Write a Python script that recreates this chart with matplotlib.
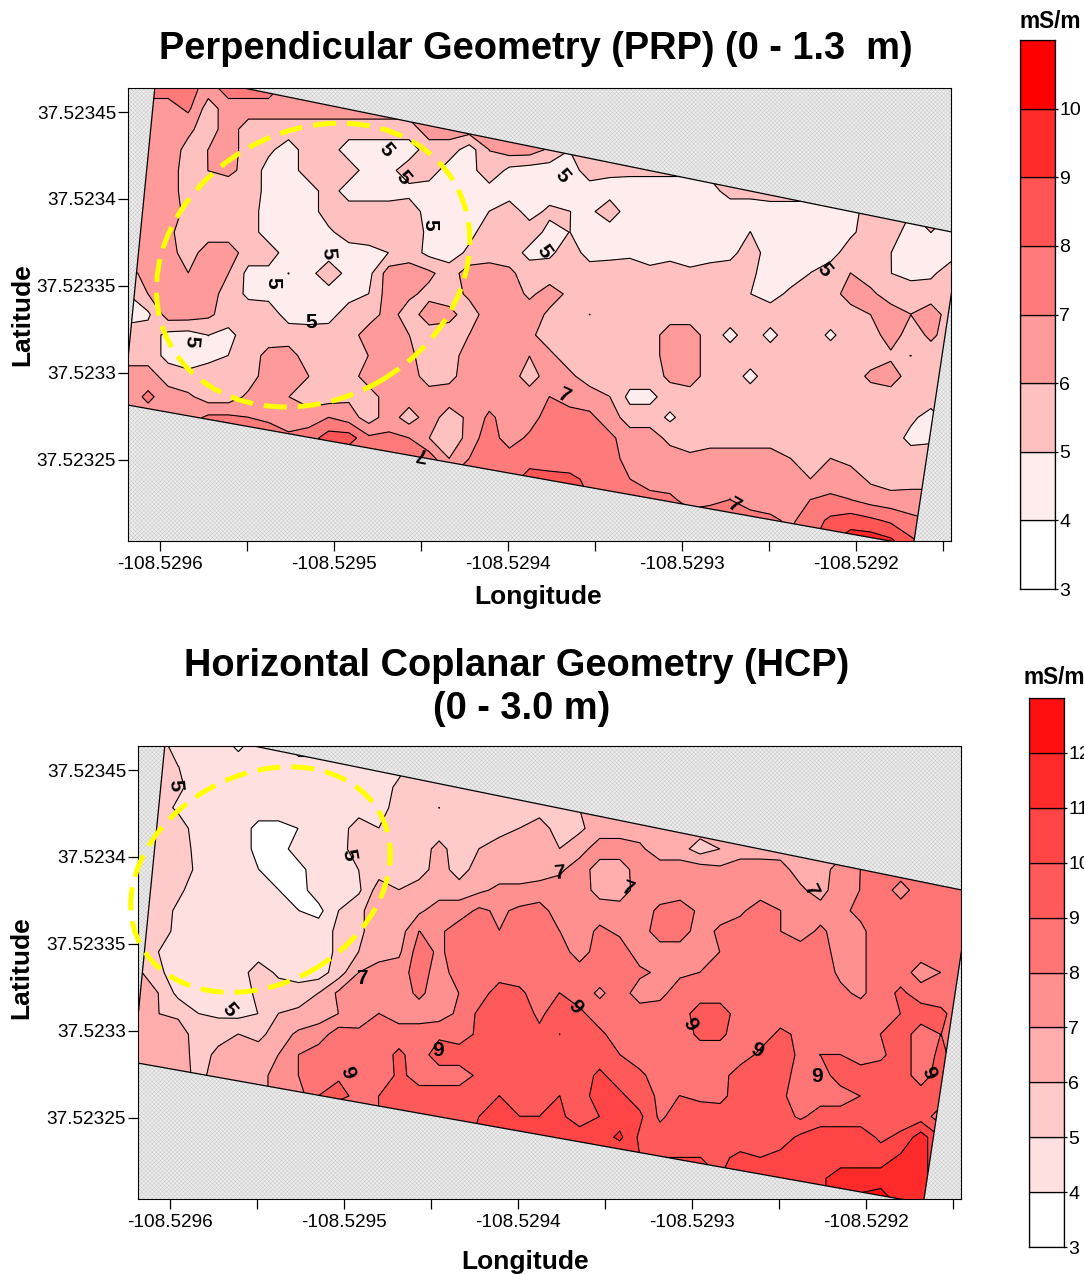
import numpy as np
import matplotlib
matplotlib.use("Agg")
import matplotlib.pyplot as plt
from matplotlib.patches import Polygon, Ellipse, Rectangle

plt.rcParams["font.family"] = ["Liberation Sans", "DejaVu Sans"]
plt.rcParams["hatch.linewidth"] = 0.3

# survey outline, same for both maps
outline_lon = [-108.529602, -108.52914, -108.529167, -108.529621]
outline_lat = [37.523474, 37.52338, 37.523201, 37.523282]

x_major = [-108.5296, -108.5295, -108.5294, -108.5293, -108.5292]
x_minor = [-108.52955, -108.52945, -108.52935, -108.52925, -108.52915]
x_labels = ["-108.5296", "-108.5295", "-108.5294", "-108.5293", "-108.5292"]
y_major = [37.52345, 37.5234, 37.52335, 37.5233, 37.52325]
y_labels = ["37.52345", "37.5234", "37.52335", "37.5233", "37.52325"]

xlim = (-108.5296184, -108.5291454)
ylim = (37.5232034, 37.5234638)

# conductivity x10, rows north to south, columns west to east
prp_values = [
    [65, 75, 75, 75, 65, 75, 75, 75, 65, 65, 65, 65, 65, 65, 65, 65, 65, 65, 65, 65] + [65] * 22,
    [65, 65, 65, 72, 55, 65, 65, 65, 65, 65, 65, 65, 65, 65, 65, 65, 65, 65, 65, 65] + [60] * 22,
    [65, 65, 65, 62, 55, 65, 55, 55, 55, 55, 55, 55, 55, 55, 55, 65, 65, 65, 65, 65] + [60] * 22,
    [65, 65, 65, 57, 60, 65, 55, 52, 45, 55, 55, 45, 45, 45, 45, 55, 55, 45, 60, 65] + [65, 58] + [50] * 20,
    [65, 65, 65, 55, 60, 62, 57, 46, 45, 55, 50, 55, 45, 47, 55, 55, 45, 45, 58, 47] + [45, 45, 45, 55, 52] + [52] * 17,
    [65, 65, 65, 55, 55, 55, 55, 47, 45, 45, 55, 45, 45, 45, 47, 45, 45, 48, 45, 45] + [45, 45, 45, 45, 46, 45, 45, 45, 45, 47, 53, 53, 55] + [55] * 9,
    [65, 65, 65, 57, 55, 55, 55, 45, 45, 45, 55, 55, 55, 55, 55, 46, 45, 45, 50, 55, 46, 52, 50, 48, 55, 45, 45, 45, 45, 45, 45, 45, 45, 45, 45, 45, 46, 55, 50, 50, 50, 50],
    [65, 65, 62, 55, 55, 55, 55, 45, 45, 45, 48, 55, 55, 55, 55, 48, 45, 47, 55, 55, 55, 47, 50, 46, 45, 45, 45, 45, 45, 45, 46, 50, 45, 45, 45, 45, 48, 55, 55, 45, 50, 45],
    [65, 65, 64, 55, 65, 65, 55, 55, 45, 45, 45, 45, 47, 50, 55, 47, 45, 52, 55, 55, 47, 48, 55, 46, 47, 48, 45, 47, 45, 45, 47, 55, 45, 45, 47, 46, 55, 55, 50, 45, 45, 46],
    [55, 65, 65, 60, 65, 60, 47, 47, 50, 46, 57, 46, 47, 65, 65, 62, 55, 65, 65, 62, 55, 55, 55, 55, 55, 55, 53, 54, 52, 55, 55, 52, 45, 45, 50, 55, 60, 55, 50, 47, 48, 55],
    [50, 60, 65, 64, 65, 55, 48, 47, 47, 45, 45, 46, 50, 65, 62, 57, 55, 62, 65, 65, 58, 64, 58, 55, 55, 55, 55, 55, 55, 55, 55, 50, 46, 52, 55, 55, 65, 62, 55, 55, 55, 55],
    [46, 48, 65, 65, 62, 55, 55, 55, 46, 45, 46, 55, 55, 64, 55, 65, 63, 55, 65, 65, 65, 58, 55, 60, 55, 55, 53, 55, 55, 55, 55, 53, 55, 55, 55, 55, 55, 60, 65, 60, 65, 55],
    [55, 55, 47, 46, 50, 47, 55, 55, 55, 55, 55, 55, 65, 65, 60, 55, 55, 60, 65, 65, 62, 55, 55, 55, 55, 55, 55, 65, 65, 55, 47, 55, 47, 55, 55, 48, 55, 55, 65, 55, 62, 55],
    [55, 55, 47, 46, 47, 50, 55, 63, 64, 55, 55, 57, 60, 65, 62, 55, 55, 65, 65, 65, 60, 62, 55, 55, 55, 55, 55, 65, 65, 55, 55, 55, 55, 55, 55, 55, 55, 55, 58, 60, 55, 55],
    [65, 65, 55, 52, 55, 55, 55, 65, 65, 60, 50, 55, 65, 65, 65, 55, 57, 65, 65, 65, 55, 65, 62, 55, 55, 55, 55, 62, 65, 55, 55, 47, 55, 55, 55, 55, 55, 62, 65, 55, 55, 55],
    [65, 72, 65, 62, 55, 55, 62, 65, 60, 55, 55, 58, 55, 65, 65, 65, 65, 65, 65, 65, 65, 70, 65, 65, 60, 47, 47, 55, 55, 55, 55, 55, 55, 50, 55, 55, 55, 55, 55, 55, 55, 55],
    [65, 65, 65, 65, 72, 72, 70, 65, 65, 65, 70, 65, 55, 65, 55, 65, 55, 62, 72, 65, 65, 75, 75, 72, 65, 55, 55, 48, 55, 55, 55, 55, 55, 55, 55, 58, 55, 55, 55, 52, 46, 55],
    [65, 65, 65, 65, 72, 72, 80, 85, 72, 75, 85, 85, 72, 72, 70, 60, 50, 65, 75, 65, 72, 70, 75, 75, 72, 65, 65, 57, 55, 55, 55, 55, 55, 55, 55, 55, 55, 55, 55, 47, 48, 55],
    [70] * 14 + [80, 75, 60, 70, 75, 75] + [75, 72, 75, 76, 74, 66, 65, 65, 62, 65, 65, 65, 65, 60, 55, 60, 57, 55, 55, 55, 55, 55],
    [70] * 18 + [75, 75] + [85, 85, 82, 78, 75, 70, 65, 65, 65, 65, 68, 65, 65, 65, 60, 65, 65, 58, 55, 55, 55, 55],
    [70] * 20 + [90, 90, 88, 80, 78, 75, 74, 72, 66, 68, 70, 65, 65, 65, 70, 72, 70, 66, 64, 65, 65, 65],
    [70] * 20 + [75] * 12 + [72, 68, 75, 82, 85, 82, 78, 72, 70, 65],
    [70] * 20 + [72] * 14 + [78, 88, 96, 96, 92, 82, 75, 65],
]

hcp_values = [
    [55, 55, 45, 45, 45, 38, 45, 45] + [55] * 12 + [55] * 22,
    [55, 55, 50, 47, 45, 45, 45, 45, 45, 45, 45, 45, 47, 47, 55, 55, 55, 55, 55, 55] + [60] * 22,
    [55, 55, 52, 45, 45, 45, 45, 45, 45, 45, 45, 45, 45, 52, 55, 55, 55, 55, 55, 55, 55] + [60] * 21,
    [55, 55, 48, 45, 45, 45, 45, 45, 45, 45, 45, 45, 45, 55, 55, 60, 55, 55, 55, 50, 55, 55, 60] + [65] * 19,
    [65, 55, 55, 45, 45, 45, 37, 37, 40, 45, 45, 55, 50, 55, 55, 55, 55, 55, 56, 60, 65, 55, 58] + [65] * 19,
    [65, 55, 55, 47, 45, 45, 37, 36, 44, 45, 46, 55, 55, 50, 55, 63, 55, 60, 65, 65, 65, 60, 66, 75, 75, 72, 64, 64, 55, 60, 65] + [65] * 11,
    [65, 55, 55, 48, 45, 45, 40, 36, 37, 45, 45, 50, 55, 55, 55, 65, 55, 65, 65, 65, 65, 68, 75, 65, 65, 75, 75, 75, 75, 72, 75, 75, 74, 65, 65, 75, 80, 85, 85, 85, 85, 85],
    [65, 55, 52, 45, 45, 45, 45, 40, 36, 45, 45, 48, 65, 60, 65, 65, 65, 68, 72, 72, 74, 75, 75, 66, 64, 75, 75, 75, 75, 75, 75, 75, 75, 72, 65, 78, 80, 85, 76, 85, 82, 85],
    [55, 55, 48, 45, 45, 45, 45, 45, 40, 37, 50, 58, 65, 65, 68, 75, 75, 82, 78, 82, 84, 75, 75, 75, 75, 75, 82, 85, 78, 75, 78, 85, 80, 75, 75, 78, 82, 85, 85, 85, 85, 85],
    [55, 55, 47, 42, 40, 45, 45, 45, 45, 45, 52, 58, 65, 65, 80, 78, 85, 85, 80, 85, 85, 80, 75, 82, 78, 75, 85, 85, 75, 82, 85, 85, 80, 75, 82, 75, 78, 85, 85, 85, 85, 85],
    [55, 50, 45, 45, 45, 45, 45, 45, 45, 45, 52, 60, 65, 68, 85, 78, 85, 85, 85, 85, 85, 85, 75, 85, 85, 75, 75, 75, 75, 80, 80, 85, 85, 85, 85, 75, 78, 85, 85, 85, 85, 85],
    [62, 52, 45, 45, 45, 45, 55, 48, 45, 45, 55, 70, 75, 75, 85, 75, 85, 85, 85, 85, 85, 85, 85, 85, 85, 82, 78, 78, 80, 82, 85, 85, 85, 85, 85, 78, 78, 85, 85, 75, 80, 85],
    [65, 60, 47, 45, 45, 45, 52, 55, 55, 60, 72, 75, 75, 75, 82, 75, 80, 85, 95, 92, 85, 90, 85, 78, 85, 75, 77, 85, 85, 85, 85, 85, 85, 85, 85, 82, 78, 85, 92, 85, 85, 85],
    [62, 60, 58, 50, 48, 47, 50, 60, 62, 65, 70, 75, 80, 75, 75, 75, 82, 92, 95, 95, 88, 95, 92, 85, 85, 85, 85, 85, 95, 95, 85, 85, 85, 85, 85, 85, 85, 85, 90, 95, 92, 85],
    [65, 65, 65, 55, 57, 60, 57, 65, 72, 75, 85, 82, 85, 85, 85, 88, 85, 92, 95, 95, 92, 100, 95, 92, 85, 85, 85, 85, 92, 92, 85, 85, 92, 88, 85, 85, 85, 90, 95, 85, 90, 85],
    [65, 65, 65, 56, 62, 65, 65, 70, 80, 85, 85, 85, 85, 92, 85, 95, 95, 90, 95, 95, 95, 95, 95, 95, 90, 85, 85, 85, 85, 85, 85, 92, 95, 88, 90, 90, 85, 88, 95, 85, 92, 85],
    [65, 65, 65, 57, 64, 65, 68, 72, 80, 85, 88, 85, 80, 93, 85, 85, 85, 92, 95, 92, 95, 95, 95, 102, 95, 92, 85, 85, 85, 86, 95, 95, 95, 85, 85, 95, 95, 95, 95, 85, 95, 85],
    [65, 65, 65, 60, 65, 65, 68, 72, 75, 90, 95, 85, 90, 95, 95, 95, 95, 95, 100, 95, 95, 100, 95, 105, 102, 95, 88, 90, 88, 87, 95, 95, 92, 85, 85, 85, 90, 95, 95, 95, 95, 85],
    [70] * 12 + [90, 95, 95, 95, 95, 100, 105, 100, 100, 102, 95, 100, 105, 102, 88, 95, 95, 95, 95, 95, 95, 88, 95, 95, 95, 95, 95, 95, 85, 85],
    [90] * 17 + [105, 105, 105, 105, 105, 105, 105, 112, 98, 95, 95, 95, 95, 95, 95, 95, 102, 105, 105, 105, 98, 102, 115, 100, 90],
    [90] * 20 + [100] * 9 + [98, 102, 100, 103, 105, 105, 105, 105, 105, 112, 115, 100, 90],
    [90] * 20 + [100] * 12 + [105, 105, 108, 115, 115, 115, 115, 115, 100, 90],
    [90] * 20 + [105] * 14 + [108, 115, 122, 125, 115, 115, 100, 90],
]

prp_levels = [3, 4, 5, 6, 7, 8, 9, 10, 11]
prp_colors = ["#ffffff", "#ffecec", "#ffc0c0", "#ff9a9a", "#ff7a7a", "#ff5555", "#ff2b2b", "#ff0000"]
hcp_levels = [3, 4, 5, 6, 7, 8, 9, 10, 11, 12, 13]
hcp_colors = ["#ffffff", "#ffe0e0", "#ffcaca", "#ffadad", "#ff9090", "#ff7575", "#ff5a5a", "#ff4545", "#ff2b2b", "#ff1010"]

prp_label_lon = [-108.52947, -108.52946, -108.529369, -108.529445, -108.529503, -108.529535, -108.529513, -108.529582, -108.529379, -108.529218, -108.529368, -108.52945, -108.52927]
prp_label_lat = [37.523428, 37.523412, 37.523413, 37.523385, 37.523369, 37.523352, 37.523329, 37.523318, 37.52337, 37.523359, 37.523287, 37.523254, 37.523224]
prp_label_txt = ["5", "5", "5", "5", "5", "5", "5", "5", "5", "5", "7", "7", "7"]
prp_label_rot = [-50, -50, -50, -90, -85, -90, 0, -95, -55, -50, -25, 170, -30]

hcp_label_lon = [-108.529597, -108.529497, -108.529376, -108.529337, -108.529232, -108.52949, -108.529566, -108.529367, -108.529301, -108.529446, -108.529498, -108.529263, -108.529228, -108.529164]
hcp_label_lat = [37.523441, 37.523401, 37.523391, 37.523382, 37.523381, 37.52333, 37.523312, 37.523314, 37.523304, 37.523289, 37.523276, 37.523289, 37.523274, 37.523276]
hcp_label_txt = ["5", "5", "7", "7", "7", "7", "5", "9", "9", "9", "9", "9", "9", "9"]
hcp_label_rot = [-85, -80, 5, -20, -65, 0, -50, -50, -60, 0, -70, -25, 0, -65]

W, H = 1084, 1274
fig = plt.figure(figsize=(W / 100, H / 100), dpi=100)


def px_axes(x0, y0, x1, y1):
    return fig.add_axes([x0 / W, 1 - y1 / H, (x1 - x0) / W, (y1 - y0) / H])


def px_text(x, y, s, **kw):
    fig.text(x / W, 1 - y / H, s, ha="center", va="center", fontweight="bold", **kw)


def draw_map(box, values, levels, cols, lab_lon, lab_lat, lab_txt, lab_rot, ell):
    ax = px_axes(*box)
    ax.add_patch(Rectangle((0, 0), 1, 1, transform=ax.transAxes, facecolor="#ececec",
                           edgecolor="#c6c6c6", hatch="xxxxxxxx", lw=0, zorder=0))
    z = np.array(values) / 10
    lon = np.linspace(xlim[0], xlim[1], z.shape[1])
    lat = np.linspace(ylim[1], ylim[0], z.shape[0])
    outline = Polygon(np.column_stack([outline_lon, outline_lat]), closed=True,
                      facecolor="none", edgecolor="black", lw=0.9, zorder=4)
    ax.add_patch(outline)
    # values sit exactly on whole numbers in places, keep contours off them
    lev = np.array(levels) - 0.01
    cf = ax.contourf(lon, lat, z, levels=lev, colors=cols, zorder=1)
    cl = ax.contour(lon, lat, z, levels=lev, colors="black", linewidths=0.8, zorder=2)
    cf.set_clip_path(outline)
    cl.set_clip_path(outline)
    for a, b, t, r in zip(lab_lon, lab_lat, lab_txt, lab_rot):
        ax.text(a, b, t, rotation=r, ha="center", va="center", fontsize=15,
                fontweight="bold", zorder=5)
    ax.add_patch(Ellipse(ell[:2], ell[2], ell[3], angle=ell[4], facecolor="none",
                         edgecolor="#ffff00", lw=3.6, linestyle=(0, (4.6, 2.2)),
                         zorder=6, clip_on=False))
    ax.set_xlim(xlim)
    ax.set_ylim(ylim)
    ax.set_xticks(x_major)
    ax.set_xticklabels(x_labels)
    ax.set_xticks(x_minor, minor=True)
    ax.set_yticks(y_major)
    ax.set_yticklabels(y_labels)
    ax.tick_params(axis="x", which="major", length=7, width=0.9, labelsize=13.7, pad=4)
    ax.tick_params(axis="y", which="major", length=7, width=0.9, labelsize=13.7, pad=1.5)
    ax.tick_params(axis="x", which="minor", length=7, width=0.9)
    return ax


def draw_scale(box, levels, cols):
    ax = px_axes(*box)
    ax.bar([0] * len(cols), np.diff(levels), bottom=levels[:-1], width=1, align="edge",
           color=cols, edgecolor="black", linewidth=0.9)
    ax.set_xlim(0, 1)
    ax.set_ylim(levels[0], levels[-1])
    ax.set_xticks([])
    ax.yaxis.tick_right()
    ax.set_yticks(levels[:-1])
    ax.tick_params(axis="y", length=2.5, width=0.9, labelsize=14, pad=0.5)
    for s in ax.spines.values():
        s.set_linewidth(0.9)
    return ax


draw_map((128, 88, 951, 541), prp_values, prp_levels, prp_colors, prp_label_lon,
         prp_label_lat, prp_label_txt, prp_label_rot,
         (-108.529512, 37.523362, 0.000188, 0.000154, 30))
draw_map((138, 746, 961, 1199), hcp_values, hcp_levels, hcp_colors, hcp_label_lon,
         hcp_label_lat, hcp_label_txt, hcp_label_rot,
         (-108.529548, 37.523387, 0.000157, 0.000120, 29))
draw_scale((1020, 40, 1055, 589), prp_levels, prp_colors)
draw_scale((1029, 698, 1064, 1247), hcp_levels, hcp_colors)

px_text(536, 49, "Perpendicular Geometry (PRP) (0 - 1.3  m)", fontsize=27.4)
px_text(517, 666, "Horizontal Coplanar Geometry (HCP)", fontsize=27.4)
px_text(522, 709, "(0 - 3.0 m)", fontsize=27.4)
px_text(538, 597, "Longitude", fontsize=19)
px_text(525, 1262, "Longitude", fontsize=19)
px_text(22, 315, "Latitude", fontsize=19, rotation=90)
px_text(21, 968, "Latitude", fontsize=19, rotation=90)
px_text(1050, 21, "mS/m", fontsize=16.3)
px_text(1054, 678, "mS/m", fontsize=16.3)

fig.savefig("out.png", dpi=100)
